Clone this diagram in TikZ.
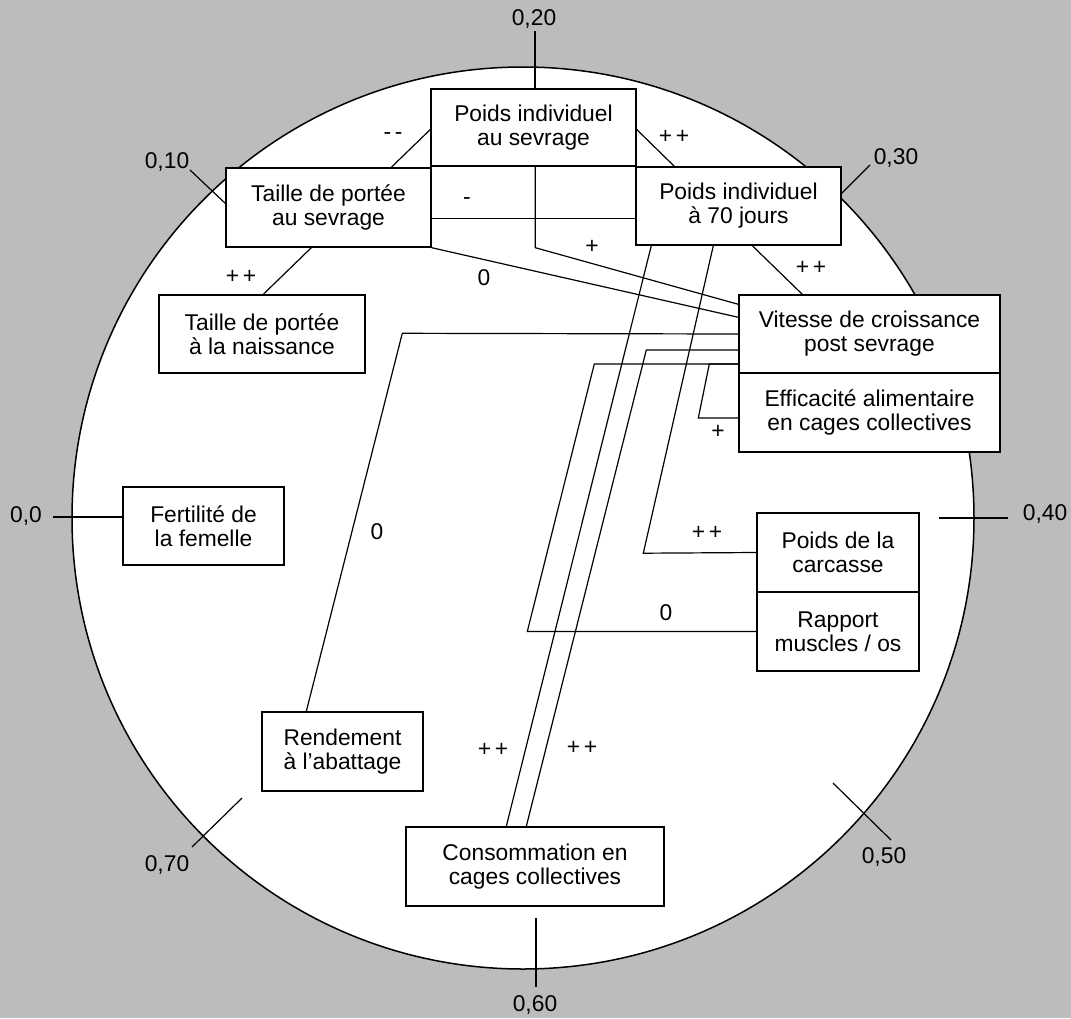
\documentclass[tikz,border=0pt]{standalone}
\usepackage{fontspec}
\setmainfont{Liberation Sans}
\usetikzlibrary{calc}
\definecolor{bggray}{RGB}{188,188,188}
\begin{document}
\begin{tikzpicture}[x=1pt,y=-1pt,
  txt/.style={font=\fontsize{22.8}{24}\selectfont},
  box/.style={txt, draw, line width=1.4pt, fill=white, align=center, inner sep=0pt},
  conn/.style={line width=1.2pt, line join=miter},
  lab/.style={txt, inner sep=0pt},
  tickmark/.style={line width=1.2pt}]
\useasboundingbox (0,0) rectangle (1071,1018);
\fill[bggray] (0,0) rectangle (1071,1018);
\draw[line width=1.5pt, fill=white] (523,518) circle (451pt);

% scale ticks
\draw[tickmark] (53,517) -- (123,517);
\draw[tickmark] (190,170) -- (226,204);
\draw[tickmark] (535,31) -- (535,89);
\draw[tickmark] (870,165) -- (837,198);
\draw[tickmark] (939,518) -- (1008,518);
\draw[tickmark] (833,783) -- (891,840);
\draw[tickmark] (536,918) -- (536,987);
\draw[tickmark] (242,798) -- (192,847);
\node[lab] (t0)  at (26,516)   {0,0};
\node[lab] (t10) at (167,162)  {0,10};
\node[lab] (t20) at (534,19)   {0,20};
\node[lab] (t30) at (896,158)  {0,30};
\node[lab] (t40) at (1045,514) {0,40};
\node[lab] (t50) at (884,857)  {0,50};
\node[lab] (t60) at (535,1005) {0,60};
\node[lab] (t70) at (167,865)  {0,70};

% boxes
\node[box, minimum width=205pt, minimum height=77pt] (PIS) at (533.5,127.5) {Poids individuel\\au sevrage};
\node[box, minimum width=205pt, minimum height=79pt] (TPS) at (328.5,207.5) {Taille de portée\\au sevrage};
\node[box, minimum width=205pt, minimum height=78pt] (P70) at (738.5,206) {Poids individuel\\à 70 jours};
\node[box, minimum width=206pt, minimum height=78pt] (TPN) at (262,334) {Taille de portée\\à la naissance};
\node[box, minimum width=261pt, minimum height=78pt] (VIT) at (869.5,334) {Vitesse de croissance\\post sevrage};
\node[box, minimum width=261pt, minimum height=79pt] (EFF) at (869.5,412.5) {Efficacité alimentaire\\en cages collectives};
\node[box, minimum width=161pt, minimum height=78pt] (FER) at (203.5,526) {Fertilité de\\la femelle};
\node[box, minimum width=162pt, minimum height=79pt] (PCA) at (838,552.5) {Poids de la\\carcasse};
\node[box, minimum width=162pt, minimum height=79pt] (RAP) at (838,631.5) {Rapport\\muscles / os};
\node[box, minimum width=161pt, minimum height=79pt] (REN) at (342.5,751.5) {Rendement\\à l’abattage};
\node[box, minimum width=258pt, minimum height=79pt] (CON) at (535,866.5) {Consommation en\\cages collectives};

% connectors
\draw[conn] ($(PIS.west)+(0,2)$) -- ($(TPS.north west)+(166,0)$);
\draw[conn] ($(PIS.east)+(0,2)$) -- ($(P70.north west)+(39,0)$);
\draw[conn] ($(TPS.south west)+(86,0)$) -- ($(TPN.north west)+(105,0)$);
\draw[conn] ($(TPS.south east)+(0,-29)$) -- ($(P70.south west)+(0,-27)$);
\draw[conn] (TPS.south east) -- ($(VIT.north west)+(0,23)$);
\draw[conn] ($(PIS.south west)+(105,0)$) -- ++(0,81) -- ($(VIT.north west)+(0,10)$);
\draw[conn] ($(P70.south west)+(117,0)$) -- ($(VIT.north west)+(64,0)$);
\draw[conn] ($(REN.north west)+(45,0)$) -- ++(96,-378) -- (VIT.west);
\draw[conn] ($(VIT.west)+(0,16)$) -- ++(-92,0) -- ($(CON.north west)+(121,0)$);
\draw[conn] ($(P70.south west)+(16,0)$) -- ($(CON.north west)+(101,0)$);
\draw[conn] ($(VIT.west)+(0,30)$) -- ++(-144,0) -- ++(-67,267.5) -- (RAP.west);
\draw[conn] ($(VIT.west)+(0,30)$) -- ++(-29,0) -- ++(-11,54) -- ($(EFF.west)+(0,5.5)$);
\draw[conn] ($(P70.south west)+(78,0)$) -- ++(-70,307.5) -- (PCA.west);

% connector labels
\node[lab] (a1)  at (393,136) {-\,-};
\node[lab] (a2)  at (674,137) {+\,+};
\node[lab] (a3)  at (467,201) {-};
\node[lab] (a4)  at (592,247) {+};
\node[lab] (a5)  at (484,278) {0};
\node[lab] (a6)  at (811,268) {+\,+};
\node[lab] (a7)  at (241,277) {+\,+};
\node[lab] (a8)  at (718,432) {+};
\node[lab] (a9)  at (377,532) {0};
\node[lab] (a10) at (707,533) {+\,+};
\node[lab] (a11) at (666,613) {0};
\node[lab] (a12) at (493,750) {+\,+};
\node[lab] (a13) at (582,748) {+\,+};
\end{tikzpicture}
\end{document}
